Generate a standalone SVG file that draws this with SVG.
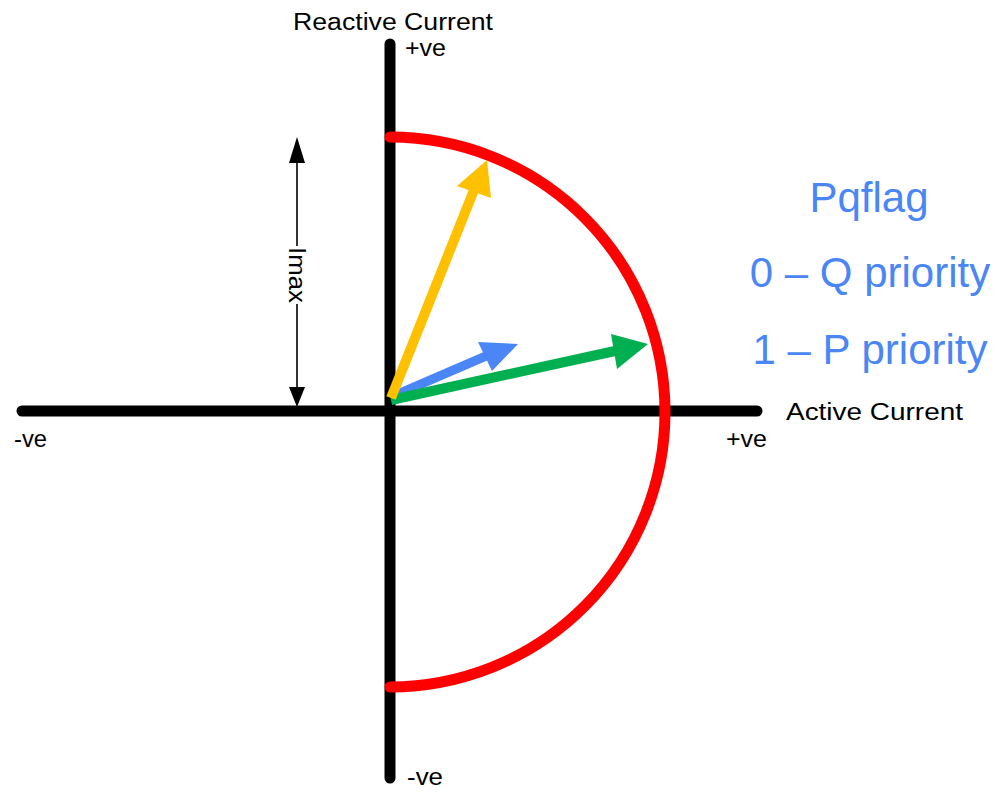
<svg xmlns="http://www.w3.org/2000/svg" width="1000" height="792" viewBox="0 0 1000 792">
<style>
.lbl{font-family:"Liberation Sans",Arial,sans-serif;font-size:23px;fill:#000}
.blue{font-family:"Liberation Sans",Arial,sans-serif;font-size:42px;fill:#4A86F5;text-anchor:middle}
.axis{stroke:#000;stroke-width:11;stroke-linecap:round;fill:none}
</style>
<rect width="1000" height="792" fill="#fff"/>
<g id="axes">
<line class="axis" x1="22" y1="411" x2="757" y2="411"/>
<line class="axis" x1="390" y1="44" x2="390" y2="778"/>
</g>
<g id="circle">
<path d="M390 137 A275 275 0 0 1 390 687" fill="none" stroke="#FF0000" stroke-width="11" stroke-linecap="round"/>
</g>
<g id="connectors">
<g id="blue-vector">
<line x1="391" y1="397" x2="486" y2="356" stroke="#4A86F5" stroke-width="9"/>
<polygon points="518,344 478,342 492,371" fill="#4A86F5"/>
</g>
<g id="green-vector">
<line x1="391" y1="400" x2="615" y2="351" stroke="#00B050" stroke-width="10"/>
<polygon points="648,344 611,334 617,369" fill="#00B050"/>
</g>
<g id="yellow-vector">
<line x1="391" y1="398" x2="474" y2="190" stroke="#FFC000" stroke-width="10"/>
<polygon points="487,160 457,186 491,198" fill="#FFC000"/>
</g>
<g id="imax">
<line x1="297" y1="160" x2="297" y2="246" stroke="#000" stroke-width="1.6"/>
<line x1="297" y1="304" x2="297" y2="389" stroke="#000" stroke-width="1.6"/>
<polygon points="297,137 289,163 305,163" fill="#000"/>
<polygon points="297,407 289,387 305,387" fill="#000"/>
</g>
</g>
<g id="labels">
<text class="lbl" x="293" y="30" textLength="200" lengthAdjust="spacingAndGlyphs">Reactive Current</text>
<text class="lbl" x="405" y="56" textLength="41" lengthAdjust="spacingAndGlyphs">+ve</text>
<text class="lbl" x="786" y="420" textLength="177" lengthAdjust="spacingAndGlyphs">Active Current</text>
<text class="lbl" x="14" y="447" textLength="33" lengthAdjust="spacingAndGlyphs">-ve</text>
<text class="lbl" x="726" y="447" textLength="41" lengthAdjust="spacingAndGlyphs">+ve</text>
<text class="lbl" x="407" y="785" textLength="36" lengthAdjust="spacingAndGlyphs">-ve</text>
<text class="lbl" transform="translate(297 275) rotate(90)" text-anchor="middle" dominant-baseline="central" textLength="56" lengthAdjust="spacingAndGlyphs">Imax</text>
</g>
<g id="legend">
<text class="blue" x="869" y="212">Pqflag</text>
<text class="blue" x="870" y="287">0 – Q priority</text>
<text class="blue" x="870" y="364">1 – P priority</text>
</g>
</svg>
